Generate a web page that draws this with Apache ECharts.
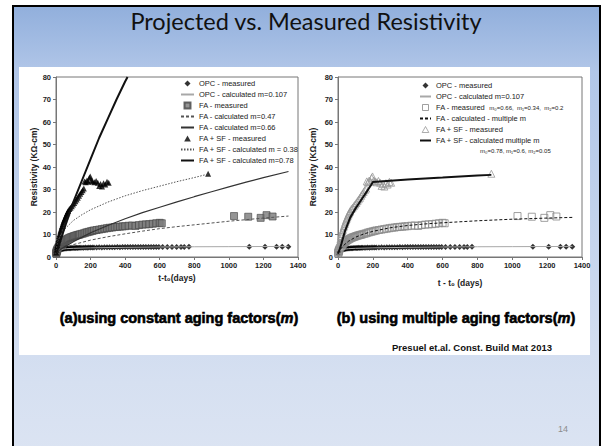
<!DOCTYPE html>
<html>
<head>
<meta charset="utf-8">
<script src="https://cdn.jsdelivr.net/npm/echarts@6.0.0/dist/echarts.min.js"></script>
<style>
  html, body { margin: 0; padding: 0; background: #ffffff; }
  #chart { width: 602px; height: 446px; }
</style>
</head>
<body>
<div id="chart"></div>
<script>
// ---- measured resistivity (KΩ-cm) against age t - t0 (days) ----
const opcMeasured = [[1,1.3],[2,1.6],[3,1.9],[4,2.1],[5,2.3],[6,2.5],[7,2.6],[8,2.7],[10,2.9],[12,3.0],[14,3.1],[16,3.2],[18,3.3],[21,3.4],[24,3.4],[28,3.5],[32,3.6],[36,3.6],[40,3.7],[45,3.7],[50,3.8],[56,3.8],[63,3.8],[70,3.9],[77,3.9],[84,3.9],[91,4.0],[98,4.0],[105,4.0],[112,4.0],[119,4.1],[126,4.0],[133,4.1],[140,4.1],[150,4.1],[160,4.1],[170,4.2],[180,4.1],[190,4.2],[200,4.2],[210,4.2],[220,4.2],[235,4.2],[250,4.3],[265,4.2],[280,4.3],[295,4.3],[310,4.3],[325,4.3],[340,4.3],[355,4.4],[370,4.3],[385,4.4],[400,4.4],[415,4.4],[430,4.4],[445,4.4],[460,4.4],[475,4.5],[490,4.4],[505,4.5],[520,4.5],[535,4.5],[550,4.5],[565,4.5],[580,4.5],[595,4.5],[617,4.5],[644,4.5],[671,4.5],[698,4.5],[723,4.5],[742,4.5],[769,4.6],[1118,4.6],[1209,4.6],[1276,4.6],[1309,4.6],[1344,4.6]];

const faMeasured = [[1,1.5],[2,1.9],[3,2.2],[4,2.5],[5,2.8],[7,3.2],[10,3.7],[14,4.3],[18,4.8],[21,5.1],[24,5.4],[28,5.8],[32,6.1],[36,6.4],[40,6.7],[45,7.0],[50,7.3],[56,7.6],[63,7.9],[70,8.2],[77,8.5],[84,8.7],[91,8.9],[98,9.1],[105,9.3],[112,9.5],[119,9.6],[126,9.8],[133,9.9],[140,10.1],[150,10.3],[160,10.5],[170,10.8],[180,11.0],[190,11.2],[200,11.4],[210,11.6],[220,11.8],[235,12.0],[250,12.2],[265,12.4],[280,12.6],[295,12.8],[310,13.0],[325,13.1],[340,13.3],[355,13.4],[370,13.5],[385,13.6],[400,13.7],[420,13.9],[440,14.0],[460,13.8],[480,14.2],[500,14.4],[520,14.5],[540,14.6],[560,14.8],[580,15.0],[600,15.2],[612,15.0],[1030,18.2],[1112,17.9],[1184,17.4],[1218,18.6],[1253,18.0]];

const sfMeasured = [[1,2.0],[3,3.2],[5,4.3],[7,5.2],[10,6.5],[14,8.0],[18,9.3],[21,10.2],[25,11.3],[28,12.1],[32,13.1],[35,13.8],[39,14.7],[42,15.4],[46,16.2],[49,16.8],[53,17.5],[56,18.1],[60,18.8],[63,19.3],[67,19.9],[70,20.4],[77,21.3],[84,21.9],[91,22.6],[98,23.3],[105,24.0],[112,24.8],[119,25.6],[126,26.3],[133,27.2],[140,28.1],[147,28.9],[154,29.7],[161,30.4],[165,33.6],[172,33.2],[179,34.0],[186,33.5],[193,35.2],[198,35.8],[205,34.0],[212,33.6],[222,33.2],[232,33.8],[242,33.0],[250,31.6],[258,32.4],[266,31.3],[275,32.8],[285,32.2],[295,33.4],[305,33.0],[880,37.0]];

// ---- projected curves ----
const opcCalc = [[0,1.5],[5,2.6],[15,3.1],[30,3.4],[60,3.7],[100,3.85],[200,4.05],[400,4.3],[600,4.45],[800,4.55],[1000,4.6],[1345,4.7]];
const faCalcM047 = [[0,1.5],[10,2.5],[25,3.3],[50,4.2],[100,5.5],[200,7.5],[300,9.0],[400,10.3],[500,11.5],[600,12.6],[700,13.5],[800,14.3],[900,15.1],[1000,15.9],[1100,16.6],[1200,17.3],[1345,18.2]];
const faCalcM066 = [[0,1.5],[10,2.5],[25,3.3],[50,4.5],[100,6.8],[200,10.8],[300,14.0],[400,17.0],[500,19.7],[600,22.1],[700,24.5],[800,26.8],[900,29.0],[1000,31.2],[1100,33.3],[1200,35.3],[1345,38.0]];
const sfCalcM038 = [[0,1.5],[5,5.0],[10,6.8],[25,9.5],[50,12.4],[100,16.2],[150,18.8],[200,21.0],[300,24.4],[400,27.2],[500,29.5],[600,31.5],[700,33.5],[800,35.3],[887,37.0]];
const sfCalcM078 = [[0,1.5],[10,3.5],[25,7.0],[50,13.0],[100,24.4],[150,34.0],[200,43.5],[250,53.0],[300,61.5],[350,70.0],[400,78.0],[414,80.0]];
const faCalcMulti = [[0,1.5],[10,3.0],[30,5.0],[60,7.0],[100,8.8],[150,10.3],[200,11.4],[300,13.0],[400,14.0],[500,14.7],[600,15.2],[800,16.1],[1000,16.8],[1200,17.3],[1345,17.6]];
const sfCalcMulti = [[0,1.5],[10,3.5],[20,6.0],[40,11.5],[70,17.5],[100,21.5],[130,25.0],[160,28.5],[190,32.0],[200,33.3],[300,33.9],[400,34.4],[500,34.9],[600,35.3],[700,35.8],[800,36.2],[880,36.5]];

// ---- axis ranges ----
const xRange = [0, 1400, 200];
const yRange = [0, 80, 10];

// ---- labels ----
const legendLeft = ['OPC - measured', 'OPC - calculated m=0.107', 'FA - measured', 'FA - calculated m=0.47', 'FA - calculated m=0.66', 'FA + SF - measured', 'FA + SF - calculated m = 0.38', 'FA + SF - calculated m=0.78'];
const legendRight = ['OPC - measured', 'OPC - calculated m=0.107', 'FA - measured', 'FA - calculated - multiple m', 'FA + SF - measured', 'FA + SF - calculated multiple m'];
const faMultiNote = 'm₀=0.66,  m₁=0.34,  m₂=0.2';
const sfMultiNote = 'm₀=0.78, m₁=0.6, m₂=0.05';
const slideTitle = 'Projected vs. Measured Resistivity';
const captionA = '(a)using constant aging factors(';
const captionB = '(b) using multiple aging factors(';
const citation = 'Presuel et.al. Const. Build Mat 2013';
const pageNo = '14';

const FONT = '"Liberation Sans", Arial, sans-serif';
const TEXT = '#222';

// square-aspect legend markers (path icons keep their aspect inside the legend box)
const ICON_DIAMOND = 'path://M1,0L2,1L1,2L0,1Z';
const ICON_SQUARE = 'path://M0,0L2,0L2,2L0,2Z';
const ICON_TRIANGLE = 'path://M1,0L2,1.8L0,1.8Z';

const chart = echarts.init(document.getElementById('chart'), null, { renderer: 'svg' });

function axisPair(gi, xNameGap, yNameGap, xName) {
  const common = {
    gridIndex: gi,
    type: 'value',
    nameLocation: 'middle',
    nameTextStyle: { fontFamily: FONT, fontWeight: 'bold', fontSize: 8.5, color: TEXT },
    axisLine: { show: true, lineStyle: { color: '#777', width: 1 } },
    axisTick: { show: true, length: 3, lineStyle: { color: '#777' } },
    axisLabel: { fontFamily: FONT, fontWeight: 'bold', fontSize: 7.5, color: TEXT, margin: 4, formatter: v => String(v) },
    splitLine: { show: false }
  };
  return {
    x: Object.assign({}, common, { min: xRange[0], max: xRange[1], interval: xRange[2], name: xName, nameGap: xNameGap }),
    y: Object.assign({}, common, { min: yRange[0], max: yRange[1], interval: yRange[2], name: 'Resistivity (KΩ-cm)', nameGap: yNameGap,
      axisLabel: Object.assign({}, common.axisLabel, { margin: 5 }) })
  };
}
const axA = axisPair(0, 16, 17, 't-t₀(days)');
const axB = axisPair(1, 21, 21, 't - t₀ (days)');

function scatter(name, data, gi, symbol, size, itemStyle) {
  return { type: 'scatter', name, data, xAxisIndex: gi, yAxisIndex: gi, symbol, symbolSize: size, itemStyle, z: 3, silent: true };
}
// projected curves: plain lines; the marker colour is left transparent so the legend shows only the stroke
function curve(name, data, gi, color, width, type) {
  return { type: 'line', name, data, xAxisIndex: gi, yAxisIndex: gi, symbol: 'none', showSymbol: false,
    lineStyle: { color, width, type }, itemStyle: { color: 'rgba(0,0,0,0)', borderWidth: 0 }, z: 4, silent: true, clip: true };
}

const legendText = { fontFamily: FONT, fontSize: 7.5, color: TEXT, lineHeight: 9 };
const capRich = {
  b: { fontFamily: FONT, fontWeight: 'bold', fontSize: 14.5, fill: '#000', stroke: '#000', lineWidth: 0.6 },
  i: { fontFamily: FONT, fontWeight: 'bold', fontStyle: 'italic', fontSize: 14.5, fill: '#000', stroke: '#000', lineWidth: 0.6 }
};
const openSquare = { color: 'rgba(255,255,255,0)', borderColor: '#888', borderWidth: 1 };
const openTriangle = { color: 'rgba(255,255,255,0)', borderColor: '#999', borderWidth: 1 };

const option = {
  animation: false,
  graphic: {
    z: -10,
    elements: [
      { type: 'rect', z: -10, shape: { x: 13, y: 6, width: 587, height: 470 },
        style: { stroke: '#000', lineWidth: 2,
          fill: new echarts.graphic.LinearGradient(0, 0, 0, 1, [
            { offset: 0, color: '#91afdc' },
            { offset: 0.14, color: '#b1c6e8' },
            { offset: 0.8, color: '#d6e0f1' },
            { offset: 1, color: '#dde5f3' }
          ]) } },
      { type: 'rect', z: -9, shape: { x: 19, y: 67, width: 571, height: 288 }, style: { fill: '#ffffff' } },
      { type: 'text', z: -8, x: 306, y: 21, style: { text: slideTitle, align: 'center', verticalAlign: 'middle',
        font: '23.5px Lato, "Open Sans", sans-serif', fill: '#111' } },
      { type: 'text', z: -8, x: 179, y: 318, style: {
        text: '{b|' + captionA + '}{i|m}{b|)}', align: 'center', verticalAlign: 'middle', rich: capRich } },
      { type: 'text', z: -8, x: 456, y: 318, style: {
        text: '{b|' + captionB + '}{i|m}{b|)}', align: 'center', verticalAlign: 'middle', rich: capRich } },
      { type: 'text', z: -8, x: 552, y: 347, style: { text: citation, align: 'right', verticalAlign: 'middle',
        fontFamily: FONT, fontWeight: 'bold', fontSize: 9.5, fill: '#111' } },
      { type: 'text', z: -8, x: 563, y: 429, style: { text: pageNo, align: 'center', verticalAlign: 'middle',
        fontFamily: FONT, fontSize: 9, fill: '#8c8c8c' } },
      { type: 'text', z: 5, x: 480, y: 151, style: { text: sfMultiNote, align: 'left', verticalAlign: 'middle',
        fontFamily: FONT, fontSize: 6, fill: TEXT } }
    ]
  },
  grid: [
    { left: 56, top: 77, width: 242, height: 180, show: true, borderColor: '#777', borderWidth: 1, backgroundColor: 'transparent' },
    { left: 338, top: 77, width: 244, height: 180, show: true, borderColor: '#777', borderWidth: 1, backgroundColor: 'transparent' }
  ],
  xAxis: [axA.x, axB.x],
  yAxis: [axA.y, axB.y],
  legend: [
    {
      orient: 'vertical', left: 175, top: 74, itemWidth: 13, itemHeight: 6, itemGap: 2,
      textStyle: legendText, selectedMode: false,
      data: [
        { name: legendLeft[0], icon: ICON_DIAMOND },
        legendLeft[1],
        { name: legendLeft[2], icon: ICON_SQUARE },
        legendLeft[3],
        legendLeft[4],
        { name: legendLeft[5], icon: ICON_TRIANGLE },
        legendLeft[6],
        legendLeft[7]
      ]
    },
    {
      orient: 'vertical', left: 414, top: 76, itemWidth: 11, itemHeight: 6, itemGap: 2,
      textStyle: Object.assign({}, legendText, { rich: {
        n: { fontFamily: FONT, fontSize: 7.5, color: TEXT },
        s: { fontFamily: FONT, fontSize: 6, color: TEXT }
      } }),
      selectedMode: false,
      formatter: name => name === legendRight[2] ? '{n|' + name + '}  {s|' + faMultiNote + '}' : '{n|' + name + '}',
      data: [
        { name: legendRight[0], icon: ICON_DIAMOND },
        legendRight[1],
        { name: legendRight[2], icon: ICON_SQUARE, itemStyle: openSquare },
        legendRight[3],
        { name: legendRight[4], icon: ICON_TRIANGLE, itemStyle: openTriangle },
        legendRight[5]
      ]
    }
  ],
  series: [
    // (a) constant aging factors
    scatter('OPC - measured', opcMeasured, 0, 'diamond', 6, { color: '#000' }),
    scatter('FA - measured', faMeasured, 0, 'rect', 7, { color: '#7a7a7a', borderColor: '#444', borderWidth: 0.8 }),
    scatter('FA + SF - measured', sfMeasured, 0, 'triangle', 6, { color: '#000' }),
    curve('OPC - calculated m=0.107', opcCalc, 0, '#a8a8a8', 1, 'solid'),
    curve('FA - calculated m=0.47', faCalcM047, 0, '#555', 1, [3, 2]),
    curve('FA - calculated m=0.66', faCalcM066, 0, '#333', 1.2, 'solid'),
    curve('FA + SF - calculated m = 0.38', sfCalcM038, 0, '#555', 1, [1.5, 1.5]),
    curve('FA + SF - calculated m=0.78', sfCalcM078, 0, '#111', 2, 'solid'),
    // (b) multiple aging factors
    scatter('OPC - measured', opcMeasured, 1, 'diamond', 6, { color: '#000' }),
    scatter('FA - measured', faMeasured, 1, 'rect', 7, openSquare),
    scatter('FA + SF - measured', sfMeasured, 1, 'triangle', 7, openTriangle),
    curve('OPC - calculated m=0.107', opcCalc, 1, '#a8a8a8', 1, 'solid'),
    curve('FA - calculated - multiple m', faCalcMulti, 1, '#111', 1, [3, 2]),
    curve('FA + SF - calculated multiple m', sfCalcMulti, 1, '#111', 2, 'solid')
  ]
};

chart.setOption(option);
</script>
</body>
</html>
